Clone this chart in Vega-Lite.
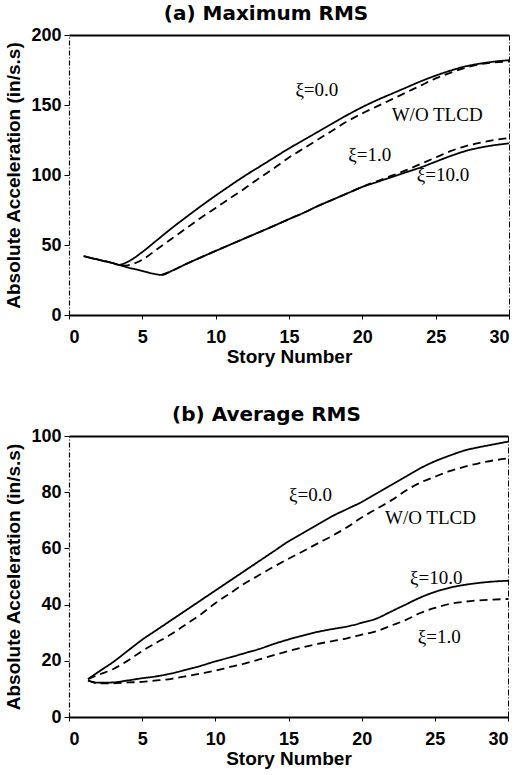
{
  "$schema": "https://vega.github.io/schema/vega-lite/v6.json",
  "padding": {"left": 4, "top": 4, "right": 5, "bottom": 5},
  "spacing": 39,
  "config": {
    "view": {"stroke": null},
    "font": "Liberation Sans",
    "axis": {"labelFont": "Liberation Sans", "labelFontSize": 18, "labelFontWeight": "bold", "labelColor": "black", "titleFont": "Liberation Sans", "titleFontSize": 19, "titleFontWeight": "bold", "titleColor": "black", "domainColor": "black", "tickColor": "black", "grid": false},
    "title": {"font": "DejaVu Sans", "fontSize": 20, "fontWeight": "bold", "color": "black", "offset": 2}
  },
  "datasets": {
    "a": [
      {"s": "ξ=0.0", "story": 1, "acc": 42}, {"s": "ξ=0.0", "story": 2, "acc": 39.5}, {"s": "ξ=0.0", "story": 3, "acc": 37}, {"s": "ξ=0.0", "story": 3.4, "acc": 35.8}, {"s": "ξ=0.0", "story": 4, "acc": 38}, {"s": "ξ=0.0", "story": 5, "acc": 45}, {"s": "ξ=0.0", "story": 6, "acc": 53.5}, {"s": "ξ=0.0", "story": 7, "acc": 62}, {"s": "ξ=0.0", "story": 8, "acc": 70}, {"s": "ξ=0.0", "story": 9, "acc": 77.8}, {"s": "ξ=0.0", "story": 10, "acc": 85.3}, {"s": "ξ=0.0", "story": 11, "acc": 92.5}, {"s": "ξ=0.0", "story": 12, "acc": 99.5}, {"s": "ξ=0.0", "story": 13, "acc": 106}, {"s": "ξ=0.0", "story": 14, "acc": 112.5}, {"s": "ξ=0.0", "story": 15, "acc": 119}, {"s": "ξ=0.0", "story": 16, "acc": 125}, {"s": "ξ=0.0", "story": 17, "acc": 131}, {"s": "ξ=0.0", "story": 18, "acc": 137}, {"s": "ξ=0.0", "story": 19, "acc": 143}, {"s": "ξ=0.0", "story": 20, "acc": 148.5}, {"s": "ξ=0.0", "story": 21, "acc": 153.5}, {"s": "ξ=0.0", "story": 22, "acc": 158}, {"s": "ξ=0.0", "story": 23, "acc": 162.5}, {"s": "ξ=0.0", "story": 24, "acc": 167}, {"s": "ξ=0.0", "story": 25, "acc": 171}, {"s": "ξ=0.0", "story": 26, "acc": 174.5}, {"s": "ξ=0.0", "story": 27, "acc": 177.5}, {"s": "ξ=0.0", "story": 28, "acc": 179.5}, {"s": "ξ=0.0", "story": 29, "acc": 181}, {"s": "ξ=0.0", "story": 30, "acc": 182},
      {"s": "W/O TLCD", "story": 3.6, "acc": 35.2}, {"s": "W/O TLCD", "story": 4, "acc": 35.5}, {"s": "W/O TLCD", "story": 5, "acc": 39.5}, {"s": "W/O TLCD", "story": 6, "acc": 47}, {"s": "W/O TLCD", "story": 7, "acc": 54.5}, {"s": "W/O TLCD", "story": 8, "acc": 62}, {"s": "W/O TLCD", "story": 9, "acc": 69.5}, {"s": "W/O TLCD", "story": 10, "acc": 76.5}, {"s": "W/O TLCD", "story": 11, "acc": 83.5}, {"s": "W/O TLCD", "story": 12, "acc": 90.5}, {"s": "W/O TLCD", "story": 13, "acc": 98}, {"s": "W/O TLCD", "story": 14, "acc": 105}, {"s": "W/O TLCD", "story": 15, "acc": 112.5}, {"s": "W/O TLCD", "story": 16, "acc": 119}, {"s": "W/O TLCD", "story": 17, "acc": 125.5}, {"s": "W/O TLCD", "story": 18, "acc": 132}, {"s": "W/O TLCD", "story": 19, "acc": 138.5}, {"s": "W/O TLCD", "story": 20, "acc": 144}, {"s": "W/O TLCD", "story": 21, "acc": 149}, {"s": "W/O TLCD", "story": 22, "acc": 154}, {"s": "W/O TLCD", "story": 23, "acc": 159}, {"s": "W/O TLCD", "story": 24, "acc": 164}, {"s": "W/O TLCD", "story": 25, "acc": 169}, {"s": "W/O TLCD", "story": 26, "acc": 173}, {"s": "W/O TLCD", "story": 27, "acc": 176.5}, {"s": "W/O TLCD", "story": 28, "acc": 179}, {"s": "W/O TLCD", "story": 29, "acc": 180.5}, {"s": "W/O TLCD", "story": 30, "acc": 181},
      {"s": "ξ=10.0", "story": 1, "acc": 42}, {"s": "ξ=10.0", "story": 2, "acc": 39.5}, {"s": "ξ=10.0", "story": 3, "acc": 37}, {"s": "ξ=10.0", "story": 4, "acc": 34}, {"s": "ξ=10.0", "story": 5, "acc": 31.5}, {"s": "ξ=10.0", "story": 6, "acc": 29}, {"s": "ξ=10.0", "story": 6.3, "acc": 28.6}, {"s": "ξ=10.0", "story": 7, "acc": 31.5}, {"s": "ξ=10.0", "story": 8, "acc": 36.5}, {"s": "ξ=10.0", "story": 9, "acc": 41.2}, {"s": "ξ=10.0", "story": 10, "acc": 45.8}, {"s": "ξ=10.0", "story": 11, "acc": 50.3}, {"s": "ξ=10.0", "story": 12, "acc": 54.8}, {"s": "ξ=10.0", "story": 13, "acc": 59.3}, {"s": "ξ=10.0", "story": 14, "acc": 63.8}, {"s": "ξ=10.0", "story": 15, "acc": 68.5}, {"s": "ξ=10.0", "story": 16, "acc": 73}, {"s": "ξ=10.0", "story": 17, "acc": 78}, {"s": "ξ=10.0", "story": 18, "acc": 82.5}, {"s": "ξ=10.0", "story": 19, "acc": 87}, {"s": "ξ=10.0", "story": 20, "acc": 91.5}, {"s": "ξ=10.0", "story": 21, "acc": 95}, {"s": "ξ=10.0", "story": 22, "acc": 98.5}, {"s": "ξ=10.0", "story": 23, "acc": 102}, {"s": "ξ=10.0", "story": 24, "acc": 105.5}, {"s": "ξ=10.0", "story": 25, "acc": 109.5}, {"s": "ξ=10.0", "story": 26, "acc": 113.5}, {"s": "ξ=10.0", "story": 27, "acc": 117}, {"s": "ξ=10.0", "story": 28, "acc": 119.5}, {"s": "ξ=10.0", "story": 29, "acc": 121.3}, {"s": "ξ=10.0", "story": 30, "acc": 122.6},
      {"s": "ξ=1.0", "story": 6.3, "acc": 28.6}, {"s": "ξ=1.0", "story": 7, "acc": 31.5}, {"s": "ξ=1.0", "story": 8, "acc": 36.5}, {"s": "ξ=1.0", "story": 9, "acc": 41.2}, {"s": "ξ=1.0", "story": 10, "acc": 45.8}, {"s": "ξ=1.0", "story": 11, "acc": 50.3}, {"s": "ξ=1.0", "story": 12, "acc": 54.8}, {"s": "ξ=1.0", "story": 13, "acc": 59.3}, {"s": "ξ=1.0", "story": 14, "acc": 63.8}, {"s": "ξ=1.0", "story": 15, "acc": 68.5}, {"s": "ξ=1.0", "story": 16, "acc": 73}, {"s": "ξ=1.0", "story": 17, "acc": 78}, {"s": "ξ=1.0", "story": 18, "acc": 82.5}, {"s": "ξ=1.0", "story": 19, "acc": 87}, {"s": "ξ=1.0", "story": 20, "acc": 91.5}, {"s": "ξ=1.0", "story": 21, "acc": 95.5}, {"s": "ξ=1.0", "story": 22, "acc": 99.5}, {"s": "ξ=1.0", "story": 23, "acc": 103.5}, {"s": "ξ=1.0", "story": 24, "acc": 108}, {"s": "ξ=1.0", "story": 25, "acc": 112.5}, {"s": "ξ=1.0", "story": 26, "acc": 117}, {"s": "ξ=1.0", "story": 27, "acc": 120.5}, {"s": "ξ=1.0", "story": 28, "acc": 123}, {"s": "ξ=1.0", "story": 29, "acc": 125}, {"s": "ξ=1.0", "story": 30, "acc": 126.3}
    ],
    "b": [
      {"s": "ξ=0.0", "story": 1.3, "acc": 13.5}, {"s": "ξ=0.0", "story": 2, "acc": 16}, {"s": "ξ=0.0", "story": 3, "acc": 19.5}, {"s": "ξ=0.0", "story": 4, "acc": 23.5}, {"s": "ξ=0.0", "story": 5, "acc": 27.5}, {"s": "ξ=0.0", "story": 6, "acc": 31}, {"s": "ξ=0.0", "story": 7, "acc": 34.5}, {"s": "ξ=0.0", "story": 8, "acc": 38}, {"s": "ξ=0.0", "story": 9, "acc": 41.5}, {"s": "ξ=0.0", "story": 10, "acc": 45}, {"s": "ξ=0.0", "story": 11, "acc": 48.5}, {"s": "ξ=0.0", "story": 12, "acc": 52}, {"s": "ξ=0.0", "story": 13, "acc": 55.5}, {"s": "ξ=0.0", "story": 14, "acc": 59}, {"s": "ξ=0.0", "story": 15, "acc": 62.5}, {"s": "ξ=0.0", "story": 16, "acc": 65.5}, {"s": "ξ=0.0", "story": 17, "acc": 68.5}, {"s": "ξ=0.0", "story": 18, "acc": 71.5}, {"s": "ξ=0.0", "story": 19, "acc": 74}, {"s": "ξ=0.0", "story": 20, "acc": 76.5}, {"s": "ξ=0.0", "story": 21, "acc": 79.5}, {"s": "ξ=0.0", "story": 22, "acc": 82.5}, {"s": "ξ=0.0", "story": 23, "acc": 85.5}, {"s": "ξ=0.0", "story": 24, "acc": 88.5}, {"s": "ξ=0.0", "story": 25, "acc": 91}, {"s": "ξ=0.0", "story": 26, "acc": 93}, {"s": "ξ=0.0", "story": 27, "acc": 94.8}, {"s": "ξ=0.0", "story": 28, "acc": 96}, {"s": "ξ=0.0", "story": 29, "acc": 97}, {"s": "ξ=0.0", "story": 30, "acc": 98},
      {"s": "W/O TLCD", "story": 1.3, "acc": 13.5}, {"s": "W/O TLCD", "story": 2, "acc": 15}, {"s": "W/O TLCD", "story": 3, "acc": 17}, {"s": "W/O TLCD", "story": 4, "acc": 20}, {"s": "W/O TLCD", "story": 5, "acc": 23.5}, {"s": "W/O TLCD", "story": 6, "acc": 26.5}, {"s": "W/O TLCD", "story": 7, "acc": 29.5}, {"s": "W/O TLCD", "story": 8, "acc": 33}, {"s": "W/O TLCD", "story": 9, "acc": 36.5}, {"s": "W/O TLCD", "story": 10, "acc": 40.5}, {"s": "W/O TLCD", "story": 11, "acc": 44}, {"s": "W/O TLCD", "story": 12, "acc": 47.5}, {"s": "W/O TLCD", "story": 13, "acc": 50.5}, {"s": "W/O TLCD", "story": 14, "acc": 53.5}, {"s": "W/O TLCD", "story": 15, "acc": 56.3}, {"s": "W/O TLCD", "story": 16, "acc": 59}, {"s": "W/O TLCD", "story": 17, "acc": 61.8}, {"s": "W/O TLCD", "story": 18, "acc": 64.5}, {"s": "W/O TLCD", "story": 19, "acc": 67.5}, {"s": "W/O TLCD", "story": 20, "acc": 71}, {"s": "W/O TLCD", "story": 21, "acc": 74}, {"s": "W/O TLCD", "story": 22, "acc": 77}, {"s": "W/O TLCD", "story": 23, "acc": 80.5}, {"s": "W/O TLCD", "story": 24, "acc": 83.4}, {"s": "W/O TLCD", "story": 25, "acc": 85.5}, {"s": "W/O TLCD", "story": 26, "acc": 87.5}, {"s": "W/O TLCD", "story": 27, "acc": 89}, {"s": "W/O TLCD", "story": 28, "acc": 90.3}, {"s": "W/O TLCD", "story": 29, "acc": 91.3}, {"s": "W/O TLCD", "story": 30, "acc": 92},
      {"s": "ξ=10.0", "story": 1.3, "acc": 13}, {"s": "ξ=10.0", "story": 2, "acc": 12.2}, {"s": "ξ=10.0", "story": 3, "acc": 12.3}, {"s": "ξ=10.0", "story": 4, "acc": 13}, {"s": "ξ=10.0", "story": 5, "acc": 13.8}, {"s": "ξ=10.0", "story": 6, "acc": 14.5}, {"s": "ξ=10.0", "story": 7, "acc": 15.5}, {"s": "ξ=10.0", "story": 8, "acc": 16.8}, {"s": "ξ=10.0", "story": 9, "acc": 18.2}, {"s": "ξ=10.0", "story": 10, "acc": 19.8}, {"s": "ξ=10.0", "story": 11, "acc": 21.2}, {"s": "ξ=10.0", "story": 12, "acc": 22.7}, {"s": "ξ=10.0", "story": 13, "acc": 24.2}, {"s": "ξ=10.0", "story": 14, "acc": 26}, {"s": "ξ=10.0", "story": 15, "acc": 27.6}, {"s": "ξ=10.0", "story": 16, "acc": 29}, {"s": "ξ=10.0", "story": 17, "acc": 30.3}, {"s": "ξ=10.0", "story": 18, "acc": 31.3}, {"s": "ξ=10.0", "story": 19, "acc": 32.2}, {"s": "ξ=10.0", "story": 20, "acc": 33.5}, {"s": "ξ=10.0", "story": 21, "acc": 35}, {"s": "ξ=10.0", "story": 22, "acc": 37.5}, {"s": "ξ=10.0", "story": 23, "acc": 40}, {"s": "ξ=10.0", "story": 24, "acc": 42.5}, {"s": "ξ=10.0", "story": 25, "acc": 44.5}, {"s": "ξ=10.0", "story": 26, "acc": 46}, {"s": "ξ=10.0", "story": 27, "acc": 47}, {"s": "ξ=10.0", "story": 28, "acc": 47.7}, {"s": "ξ=10.0", "story": 29, "acc": 48.2}, {"s": "ξ=10.0", "story": 30, "acc": 48.5},
      {"s": "ξ=1.0", "story": 1.3, "acc": 13}, {"s": "ξ=1.0", "story": 2, "acc": 12}, {"s": "ξ=1.0", "story": 3, "acc": 12}, {"s": "ξ=1.0", "story": 4, "acc": 12.3}, {"s": "ξ=1.0", "story": 5, "acc": 12.5}, {"s": "ξ=1.0", "story": 6, "acc": 13}, {"s": "ξ=1.0", "story": 7, "acc": 13.6}, {"s": "ξ=1.0", "story": 8, "acc": 14.5}, {"s": "ξ=1.0", "story": 9, "acc": 15.5}, {"s": "ξ=1.0", "story": 10, "acc": 16.5}, {"s": "ξ=1.0", "story": 11, "acc": 17.8}, {"s": "ξ=1.0", "story": 12, "acc": 19}, {"s": "ξ=1.0", "story": 13, "acc": 20.5}, {"s": "ξ=1.0", "story": 14, "acc": 22}, {"s": "ξ=1.0", "story": 15, "acc": 23.5}, {"s": "ξ=1.0", "story": 16, "acc": 24.8}, {"s": "ξ=1.0", "story": 17, "acc": 26}, {"s": "ξ=1.0", "story": 18, "acc": 27}, {"s": "ξ=1.0", "story": 19, "acc": 28}, {"s": "ξ=1.0", "story": 20, "acc": 29.3}, {"s": "ξ=1.0", "story": 21, "acc": 30.5}, {"s": "ξ=1.0", "story": 22, "acc": 32.5}, {"s": "ξ=1.0", "story": 23, "acc": 34.5}, {"s": "ξ=1.0", "story": 24, "acc": 37}, {"s": "ξ=1.0", "story": 25, "acc": 38.8}, {"s": "ξ=1.0", "story": 26, "acc": 40.2}, {"s": "ξ=1.0", "story": 27, "acc": 41}, {"s": "ξ=1.0", "story": 28, "acc": 41.5}, {"s": "ξ=1.0", "story": 29, "acc": 41.8}, {"s": "ξ=1.0", "story": 30, "acc": 42}
    ],
    "la": [
      {"label": "ξ=0.0", "story": 16.9, "acc": 160.7},
      {"label": "W/O TLCD", "story": 25.1, "acc": 142.9},
      {"label": "ξ=1.0", "story": 20.5, "acc": 114.3},
      {"label": "ξ=10.0", "story": 25.5, "acc": 100}
    ],
    "lb": [
      {"label": "ξ=0.0", "story": 16.5, "acc": 79},
      {"label": "W/O TLCD", "story": 24.7, "acc": 70.8},
      {"label": "ξ=10.0", "story": 25.1, "acc": 49.5},
      {"label": "ξ=1.0", "story": 25.3, "acc": 28.5}
    ]
  },
  "vconcat": [
    {
      "title": {"text": "(a) Maximum RMS", "dx": -23},
      "width": 440,
      "height": 280,
      "layer": [
        {
          "data": {"name": "a"},
          "mark": {"type": "line", "color": "black", "strokeWidth": 1.8, "interpolate": "monotone"},
          "encoding": {
            "x": {"field": "story", "type": "quantitative", "scale": {"domain": [0, 30], "nice": false}, "axis": {"orient": "bottom", "title": "Story Number", "values": [0, 5, 10, 15, 20, 25, 30], "tickSize": 4, "labelPadding": 9, "titlePadding": 1, "domainWidth": 2}},
            "y": {"field": "acc", "type": "quantitative", "scale": {"domain": [0, 200], "nice": false}, "axis": {"orient": "left", "title": "Absolute Acceleration (in/s.s)", "values": [0, 50, 100, 150, 200], "tickSize": 5, "labelPadding": 3, "titlePadding": 7, "domainDash": [5, 2, 1, 2], "domainWidth": 1.2}},
            "detail": {"field": "s", "type": "nominal"},
            "strokeDash": {"field": "s", "type": "nominal", "scale": {"domain": ["ξ=0.0", "W/O TLCD", "ξ=1.0", "ξ=10.0"], "range": [[1, 0], [8, 5], [8, 5], [1, 0]]}, "legend": null}
          }
        },
        {
          "data": {"name": "la"},
          "mark": {"type": "text", "font": "Liberation Serif", "fontSize": 19, "align": "center", "baseline": "middle", "color": "black"},
          "encoding": {
            "x": {"field": "story", "type": "quantitative", "axis": null},
            "y": {"field": "acc", "type": "quantitative", "axis": null},
            "text": {"field": "label"}
          }
        },
        {
          "data": {"name": "la"},
          "mark": {"type": "point", "opacity": 0},
          "encoding": {
            "x": {"field": "story", "type": "quantitative", "axis": {"orient": "top", "labels": false, "ticks": false, "title": null, "domainWidth": 2}},
            "y": {"field": "acc", "type": "quantitative", "axis": {"orient": "right", "labels": false, "ticks": false, "title": null, "domainDash": [6, 2, 1, 2], "domainWidth": 1}}
          }
        }
      ],
      "resolve": {"axis": {"x": "independent", "y": "independent"}}
    },
    {
      "title": {"text": "(b) Average RMS", "dx": -22},
      "width": 439,
      "height": 281,
      "layer": [
        {
          "data": {"name": "b"},
          "mark": {"type": "line", "color": "black", "strokeWidth": 1.8, "interpolate": "monotone"},
          "encoding": {
            "x": {"field": "story", "type": "quantitative", "scale": {"domain": [0, 30], "nice": false}, "axis": {"orient": "bottom", "title": "Story Number", "values": [0, 5, 10, 15, 20, 25, 30], "tickSize": 4, "labelPadding": 9, "titlePadding": 1, "domainWidth": 2}},
            "y": {"field": "acc", "type": "quantitative", "scale": {"domain": [0, 100], "nice": false}, "axis": {"orient": "left", "title": "Absolute Acceleration (in/s.s)", "values": [0, 20, 40, 60, 80, 100], "tickSize": 5, "labelPadding": 3, "titlePadding": 7, "domainDash": [5, 2, 1, 2], "domainWidth": 1.2}},
            "detail": {"field": "s", "type": "nominal"},
            "strokeDash": {"field": "s", "type": "nominal", "scale": {"domain": ["ξ=0.0", "W/O TLCD", "ξ=1.0", "ξ=10.0"], "range": [[1, 0], [8, 5], [8, 5], [1, 0]]}, "legend": null}
          }
        },
        {
          "data": {"name": "lb"},
          "mark": {"type": "text", "font": "Liberation Serif", "fontSize": 19, "align": "center", "baseline": "middle", "color": "black"},
          "encoding": {
            "x": {"field": "story", "type": "quantitative", "axis": null},
            "y": {"field": "acc", "type": "quantitative", "axis": null},
            "text": {"field": "label"}
          }
        },
        {
          "data": {"name": "lb"},
          "mark": {"type": "point", "opacity": 0},
          "encoding": {
            "x": {"field": "story", "type": "quantitative", "axis": {"orient": "top", "labels": false, "ticks": false, "title": null, "domainWidth": 2}},
            "y": {"field": "acc", "type": "quantitative", "axis": {"orient": "right", "labels": false, "ticks": false, "title": null, "domainDash": [6, 2, 1, 2], "domainWidth": 1}}
          }
        }
      ],
      "resolve": {"axis": {"x": "independent", "y": "independent"}}
    }
  ]
}
